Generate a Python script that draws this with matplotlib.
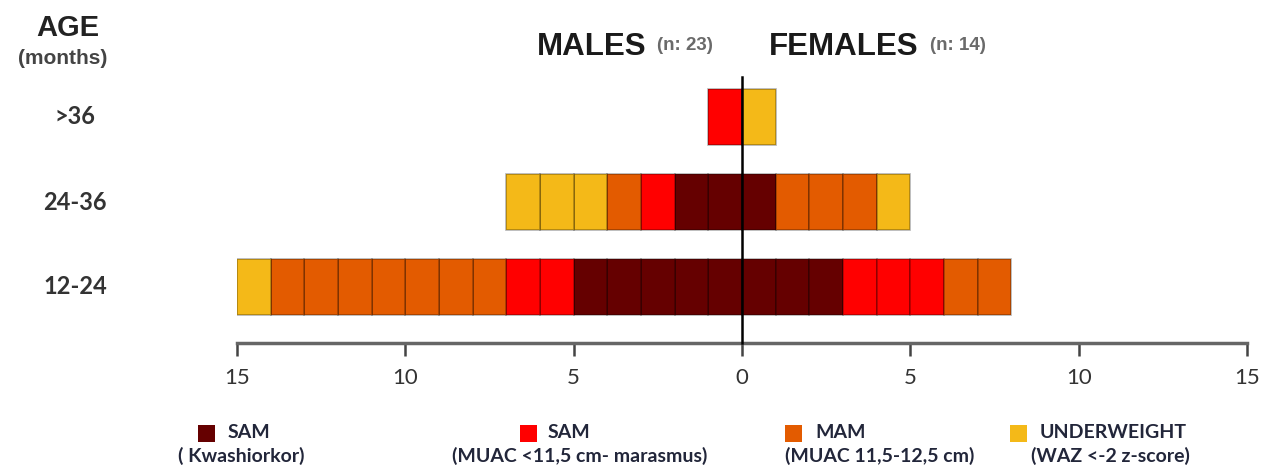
import matplotlib.pyplot as plt
from matplotlib.patches import Rectangle
from matplotlib.transforms import blended_transform_factory

# age groups, bottom to top
ages = ['12-24', '24-36', '>36']

# number of children per group (boxes of one child each)
male_kwash = [5, 2, 0]
male_sam = [2, 1, 1]
male_mam = [7, 1, 0]
male_uw = [1, 3, 0]
female_kwash = [3, 1, 0]
female_sam = [3, 0, 0]
female_mam = [2, 3, 0]
female_uw = [0, 1, 1]

cat_colors = ['#650000', '#FF0000', '#E35B00', '#F4B918']
cat_names = ['SAM', 'SAM', 'MAM', 'UNDERWEIGHT']
cat_sub = ['( Kwashiorkor)', '(MUAC <11,5 cm- marasmus)', '(MUAC 11,5-12,5 cm)', '(WAZ <-2 z-score)']

xticks = [-15, -10, -5, 0, 5, 10, 15]
xtick_labels = ['15', '10', '5', '0', '5', '10', '15']

W, H = 1263, 466
def fx(x):
    return x / W
def fy(y):
    return 1 - y / H

fig = plt.figure(figsize=(W / 100, H / 100), dpi=100)
ax = fig.add_axes([fx(237), fy(343), fx(1247) - fx(237), fy(60) - fy(343)])

males = [male_kwash, male_sam, male_mam, male_uw]
females = [female_kwash, female_sam, female_mam, female_uw]

for i in range(len(ages)):
    for sign, side in [(-1, males), (1, females)]:
        pos = 0
        for c, counts in enumerate(side):
            for k in range(counts[i]):
                ax.barh(i, sign * 1, left=sign * pos, height=0.66,
                        color=cat_colors[c], edgecolor=(0, 0, 0, 0.3), linewidth=1.2)
                pos += 1

ylo = -56 / 85
ax.set_ylim(ylo, (287 - 60) / 85)
ax.set_xlim(-15, 15)
ax.plot([0, 0], [ylo, (287 - 77) / 85], color='black', lw=1.8, zorder=5, clip_on=False)

for s in ['top', 'right', 'left']:
    ax.spines[s].set_visible(False)
ax.spines['bottom'].set_color('#666666')
ax.spines['bottom'].set_linewidth(2.5)
ax.set_yticks([])
ax.set_xticks(xticks)
ax.set_xticklabels(xtick_labels, fontsize=16, family='Lato', color='#333333')
ax.tick_params(axis='x', direction='out', length=9, width=1.8, color='#444444', pad=9)
ax.patch.set_alpha(0)

# age labels
tr = blended_transform_factory(fig.transFigure, ax.transData)
for i, a in enumerate(ages):
    ax.text(fx(75), i, a, transform=tr, ha='center', va='center',
            fontsize=17, family='Lato', fontweight='bold', color='#333333')

fig.text(fx(68), fy(28), 'AGE', ha='center', va='center', fontsize=21,
         family='Liberation Sans', fontweight='bold', color='#222222')
fig.text(fx(63), fy(58), '(months)', ha='center', va='center', fontsize=15,
         family='Liberation Sans', fontweight='bold', color='#444444')

fig.text(fx(537), fy(47), 'MALES', ha='left', va='center', fontsize=22.5,
         family='Liberation Sans', fontweight='bold', color='#1a1a1a')
fig.text(fx(657), fy(45), '(n: 23)', ha='left', va='center', fontsize=13.5,
         family='Liberation Sans', fontweight='bold', color='#6a6a6a')
fig.text(fx(769), fy(47), 'FEMALES', ha='left', va='center', fontsize=22.5,
         family='Liberation Sans', fontweight='bold', color='#1a1a1a')
fig.text(fx(930), fy(45), '(n: 14)', ha='left', va='center', fontsize=13.5,
         family='Liberation Sans', fontweight='bold', color='#6a6a6a')

# legend
sq_x = [198, 520, 785, 1010]
txt_x = [228, 548, 815, 1040]
sub_x = [241, 580, 880, 1110]
for c in range(4):
    fig.add_artist(Rectangle((fx(sq_x[c]), fy(442)), 17 / W, 17 / H,
                             transform=fig.transFigure, facecolor=cat_colors[c], edgecolor='none'))
    fig.text(fx(txt_x[c]), fy(433), cat_names[c], ha='left', va='center', fontsize=14,
             family='Lato', fontweight='bold', color='#22263a')
    fig.text(fx(sub_x[c]), fy(456), cat_sub[c], ha='center', va='center', fontsize=14,
             family='Lato', fontweight='bold', color='#22263a')

fig.savefig('out.png', dpi=100)
